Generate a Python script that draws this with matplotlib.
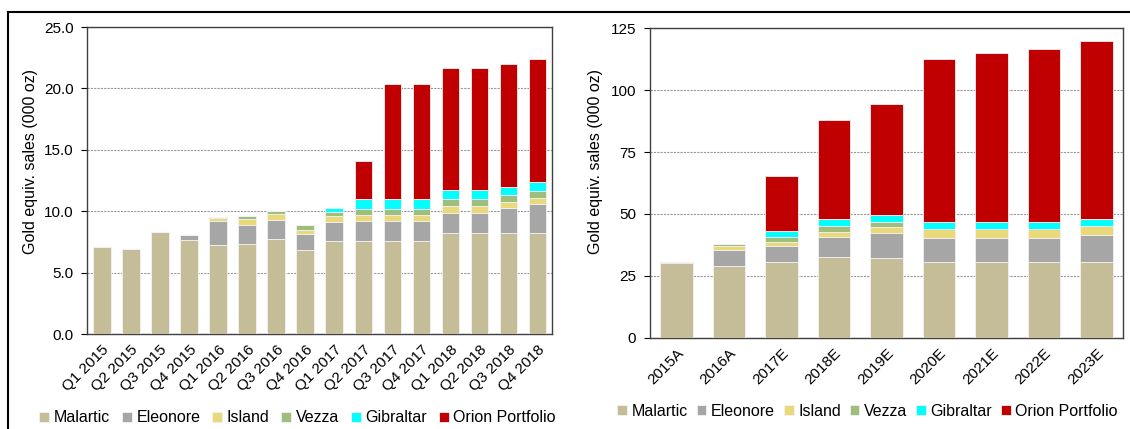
import matplotlib
matplotlib.use("Agg")
import matplotlib.pyplot as plt
import numpy as np

plt.rcParams['font.family'] = ['Liberation Sans', 'DejaVu Sans']

# quarterly data (000 oz)
quarters = ["Q1 2015", "Q2 2015", "Q3 2015", "Q4 2015", "Q1 2016", "Q2 2016", "Q3 2016", "Q4 2016",
            "Q1 2017", "Q2 2017", "Q3 2017", "Q4 2017", "Q1 2018", "Q2 2018", "Q3 2018", "Q4 2018"]
malartic_q = [7.1, 6.9, 8.3, 7.65, 7.25, 7.33, 7.76, 6.84, 7.6, 7.55, 7.55, 7.55, 8.2, 8.2, 8.2, 8.2]
eleonore_q = [0, 0, 0, 0.45, 1.98, 1.55, 1.52, 1.33, 1.52, 1.68, 1.68, 1.68, 1.68, 1.68, 2.03, 2.35]
island_q = [0, 0, 0, 0, 0.22, 0.48, 0.47, 0.30, 0.48, 0.47, 0.47, 0.47, 0.52, 0.52, 0.54, 0.55]
vezza_q = [0, 0, 0, 0, 0.05, 0.24, 0.25, 0.38, 0.30, 0.50, 0.50, 0.50, 0.57, 0.57, 0.53, 0.52]
gibraltar_q = [0, 0, 0, 0, 0, 0, 0, 0, 0.33, 0.77, 0.77, 0.77, 0.73, 0.73, 0.70, 0.78]
orion_q = [0, 0, 0, 0, 0, 0, 0, 0, 0, 3.13, 9.43, 9.43, 10.0, 10.0, 10.0, 10.0]

# annual data (000 oz)
years = ["2015A", "2016A", "2017E", "2018E", "2019E", "2020E", "2021E", "2022E", "2023E"]
malartic_y = [30.3, 29.1, 30.5, 32.7, 32.2, 30.5, 30.5, 30.5, 30.5]
eleonore_y = [0.2, 6.5, 6.5, 8.0, 10.3, 9.8, 9.8, 9.8, 11.1]
island_y = [0, 1.4, 1.8, 2.0, 2.1, 3.5, 3.5, 3.5, 3.7]
vezza_y = [0, 1.0, 2.0, 2.4, 2.2, 0, 0, 0, 0]
gibraltar_y = [0, 0, 2.4, 2.7, 2.8, 3.0, 3.0, 3.0, 2.7]
orion_y = [0, 0, 22.0, 40.0, 45.0, 65.8, 68.2, 69.8, 71.8]

names = ["Malartic", "Eleonore", "Island", "Vezza", "Gibraltar", "Orion Portfolio"]
colors = ["#c4bd97", "#a6a6a6", "#e9d97b", "#9fbe7e", "#00ffff", "#c00000"]


def stacked(ax, labels, series, width):
    x = np.arange(len(labels))
    bottom = np.zeros(len(labels))
    handles = []
    for vals, name, col in zip(series, names, colors):
        vals = np.array(vals, dtype=float)
        h = ax.bar(x, vals, width, bottom=bottom, color=col, edgecolor="#f2f2f2",
                   linewidth=0.6, label=name, zorder=3)
        handles.append(h)
        bottom += vals
    ax.set_xlim(-0.5, len(labels) - 0.5)
    ax.set_xticks(x)
    ax.set_xticklabels(labels, rotation=45, ha="right", rotation_mode="anchor", fontsize=11)
    ax.tick_params(axis="x", length=0, pad=6)
    ax.tick_params(axis="y", labelsize=11, length=4, direction="out", pad=6)
    ax.yaxis.grid(True, color="#9a9a9a", linestyle=(0, (2, 1)), linewidth=0.8, zorder=0)
    for s in ax.spines.values():
        s.set_color("#404040")
        s.set_linewidth(1.0)
    ax.set_ylabel("Gold equiv. sales (000 oz)", fontsize=11.5)
    return handles


fig = plt.figure(figsize=(11.3, 4.29), dpi=100)

ax1 = fig.add_axes([0.0774, 0.2214, 0.411, 0.7156])
h1 = stacked(ax1, quarters, [malartic_q, eleonore_q, island_q, vezza_q, gibraltar_q, orion_q], 0.6)
ax1.set_ylim(0, 25)
ax1.set_yticks(np.arange(0, 26, 5))
ax1.set_yticklabels(["%.1f" % v for v in np.arange(0, 26, 5)])
ax1.yaxis.set_label_coords(-0.107, 0.563)

ax2 = fig.add_axes([0.5752, 0.2128, 0.4186, 0.7212])
h2 = stacked(ax2, years, [malartic_y, eleonore_y, island_y, vezza_y, gibraltar_y, orion_y], 0.62)
ax2.set_ylim(0, 125)
ax2.set_yticks(np.arange(0, 126, 25))
ax2.yaxis.set_label_coords(-0.100, 0.571)

leg_kw = dict(ncol=6, frameon=False, fontsize=11.5, handlelength=0.6, handleheight=0.6,
              handletextpad=0.3, borderaxespad=0)
fig.legend(handles=h1, loc="center left", bbox_to_anchor=(33 / 1130, 1 - 418 / 429),
           columnspacing=0.75, **leg_kw)
fig.legend(handles=h2, loc="center left", bbox_to_anchor=(611 / 1130, 1 - 411 / 429),
           columnspacing=0.55, **leg_kw)

# panel border lines
fig.add_artist(plt.Line2D([8 / 1130, 1], [1 - 12 / 429, 1 - 12 / 429], color="black", lw=1.5))
fig.add_artist(plt.Line2D([8 / 1130, 8 / 1130], [0, 1 - 12 / 429], color="black", lw=1.5))

# figure title, cut off at the top edge as in the source
fig.text(17 / 1130, 1 + 7 / 429, "Figure 4", fontsize=13,
         fontweight="bold", va="baseline", ha="left")

fig.savefig("out.png", dpi=100)
